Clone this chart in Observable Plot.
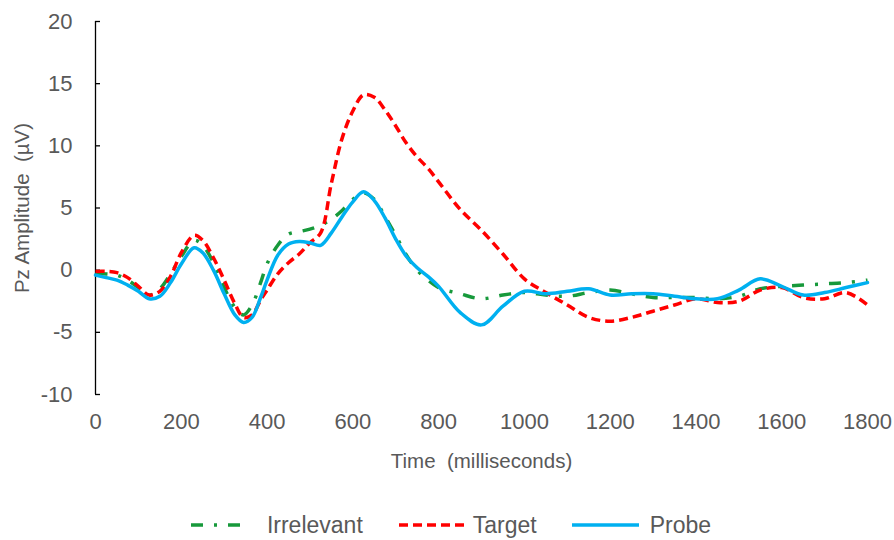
<!DOCTYPE html>
<html>
<head>
<meta charset="utf-8">
<script src="https://cdn.jsdelivr.net/npm/d3@7"></script>
<script src="https://cdn.jsdelivr.net/npm/@observablehq/plot@0.6"></script>
<style>
  html, body { margin: 0; padding: 0; background: #fff; }
  body { width: 894px; height: 540px; overflow: hidden; font-family: "Liberation Sans", Arial, sans-serif; }
  #legend { display: flex; justify-content: center; align-items: center; height: 30px; margin-top: 5px; font-size: 23px; color: #595959; padding-left: 8px; }
  .item { display: flex; align-items: center; }
  .item svg { display: block; }
</style>
</head>
<body>
<div id="chart"></div>
<div id="legend"></div>
<script>
// ---- data ----
const times = [0, 25, 50, 75, 100, 125, 150, 175, 200, 230, 250, 275, 300, 325, 345, 365, 385, 400, 425, 450, 475, 500, 525, 550, 575, 600, 625, 650, 675, 700, 725, 750, 775, 800, 850, 900, 950, 1000, 1050, 1100, 1150, 1200, 1250, 1300, 1350, 1400, 1450, 1500, 1550, 1600, 1650, 1700, 1750, 1800];
const irrelevant = [-0.3, -0.3, -0.4, -0.8, -1.4, -2.0, -1.5, -0.3, 1.1, 2.4, 2.0, 0.6, -1.4, -3.0, -3.6, -2.8, -1.0, 0.5, 2.0, 2.9, 3.1, 3.3, 3.6, 4.1, 4.8, 5.7, 6.2, 5.7, 4.3, 2.8, 1.2, 0.0, -0.8, -1.4, -1.9, -2.3, -2.0, -1.8, -2.0, -2.1, -1.8, -1.6, -1.9, -2.2, -2.2, -2.2, -2.3, -2.1, -1.5, -1.3, -1.2, -1.1, -1.0, -0.8];
const target = [-0.1, -0.1, -0.2, -0.6, -1.3, -2.0, -1.7, -0.5, 1.4, 2.8, 2.4, 1.0, -0.8, -2.7, -3.8, -3.6, -2.4, -1.6, -0.3, 0.6, 1.3, 2.2, 3.0, 7.0, 10.6, 12.8, 14.1, 13.9, 12.9, 11.6, 10.2, 9.1, 8.2, 7.1, 4.9, 3.2, 1.3, -0.7, -1.8, -2.8, -3.8, -4.1, -3.8, -3.3, -2.8, -2.3, -2.6, -2.5, -1.6, -1.4, -2.2, -2.3, -1.8, -2.8];
const probe = [-0.4, -0.6, -0.8, -1.2, -1.7, -2.3, -2.1, -1.0, 0.5, 1.8, 1.4, 0.0, -1.9, -3.6, -4.2, -3.8, -2.2, -0.8, 1.2, 2.1, 2.3, 2.2, 2.0, 3.0, 4.3, 5.5, 6.3, 5.6, 4.2, 2.5, 1.1, 0.2, -0.5, -1.3, -3.4, -4.4, -2.9, -1.7, -1.9, -1.7, -1.5, -2.0, -1.9, -1.9, -2.1, -2.3, -2.3, -1.6, -0.7, -1.3, -2.0, -1.8, -1.4, -1.0];
const seriesNames = ["Irrelevant", "Target", "Probe"];
const xTicks = [0, 200, 400, 600, 800, 1000, 1200, 1400, 1600, 1800];
const yTicks = [-10, -5, 0, 5, 10, 15, 20];
const xTitle = "Time\u00A0 (milliseconds)";
const yTitle = "Pz Amplitude\u00A0 (\u00B5V)";

// ---- styles ----
const styles = {
  Irrelevant: { stroke: "#17993B", dash: "12 11 3 11", swatch: 54, gap: 22, before: 0 },
  Target:     { stroke: "#FF0000", dash: "9 5",        swatch: 67, gap: 7,  before: 36 },
  Probe:      { stroke: "#00B0F0", dash: null,         swatch: 67, gap: 11, before: 35 }
};
const textColor = "#595959";
const fmt = d => String(d);

const valuesBySeries = { Irrelevant: irrelevant, Target: target, Probe: probe };
const rows = s => times.map((t, i) => ({ t, v: valuesBySeries[s][i], s }));

const lineMark = s => Plot.line(rows(s), {
  x: "t", y: "v", stroke: styles[s].stroke, strokeWidth: 3.5,
  strokeDasharray: styles[s].dash, curve: "catmull-rom",
  strokeLinecap: styles[s].dash ? "butt" : "round", strokeLinejoin: "round"
});

const chart = Plot.plot({
  width: 894,
  height: 505,
  marginLeft: 95,
  marginRight: 27,
  marginTop: 21,
  marginBottom: 111,
  style: { fontFamily: "'Liberation Sans', Arial, sans-serif", background: "#fff" },
  x: { domain: [0, 1800] },
  y: { domain: [-10, 20] },
  marks: [
    Plot.ruleX([0], { y1: -10, y2: 20, stroke: "#000", strokeWidth: 1.3 }),
    Plot.axisY(yTicks, { tickSize: 5, dx: 5, text: null, stroke: "#000", strokeWidth: 1.3, label: null }),
    Plot.axisY(yTicks, { tickSize: 0, tickPadding: 23, fontSize: 22, fill: textColor, label: null, tickFormat: fmt }),
    Plot.axisX(xTicks, { tickSize: 0, tickPadding: 19, fontSize: 22, fill: textColor, label: null, tickFormat: fmt }),
    Plot.text([xTitle], { frameAnchor: "bottom", dy: 67, lineAnchor: "middle", textAnchor: "middle", fontSize: 20.5, fill: textColor }),
    Plot.text([yTitle], { frameAnchor: "left", rotate: -90, dx: -73, lineAnchor: "middle", textAnchor: "middle", fontSize: 20.5, fill: textColor }),
    ...seriesNames.map(lineMark)
  ]
});
document.getElementById("chart").appendChild(chart);

// ---- legend ----
const legend = document.getElementById("legend");
seriesNames.forEach((s) => {
  const st = styles[s];
  const item = document.createElement("div");
  item.className = "item";
  item.style.marginLeft = st.before + "px";
  const ns = "http://www.w3.org/2000/svg";
  const sw = document.createElementNS(ns, "svg");
  sw.setAttribute("width", st.swatch);
  sw.setAttribute("height", 10);
  const ln = document.createElementNS(ns, "line");
  ln.setAttribute("x1", 0); ln.setAttribute("x2", st.swatch);
  ln.setAttribute("y1", 5); ln.setAttribute("y2", 5);
  ln.setAttribute("stroke", st.stroke);
  ln.setAttribute("stroke-width", 3.5);
  if (st.dash) ln.setAttribute("stroke-dasharray", st.dash);
  sw.appendChild(ln);
  const lab = document.createElement("span");
  lab.textContent = s;
  lab.style.marginLeft = st.gap + "px";
  item.appendChild(sw);
  item.appendChild(lab);
  legend.appendChild(item);
});
</script>
</body>
</html>
